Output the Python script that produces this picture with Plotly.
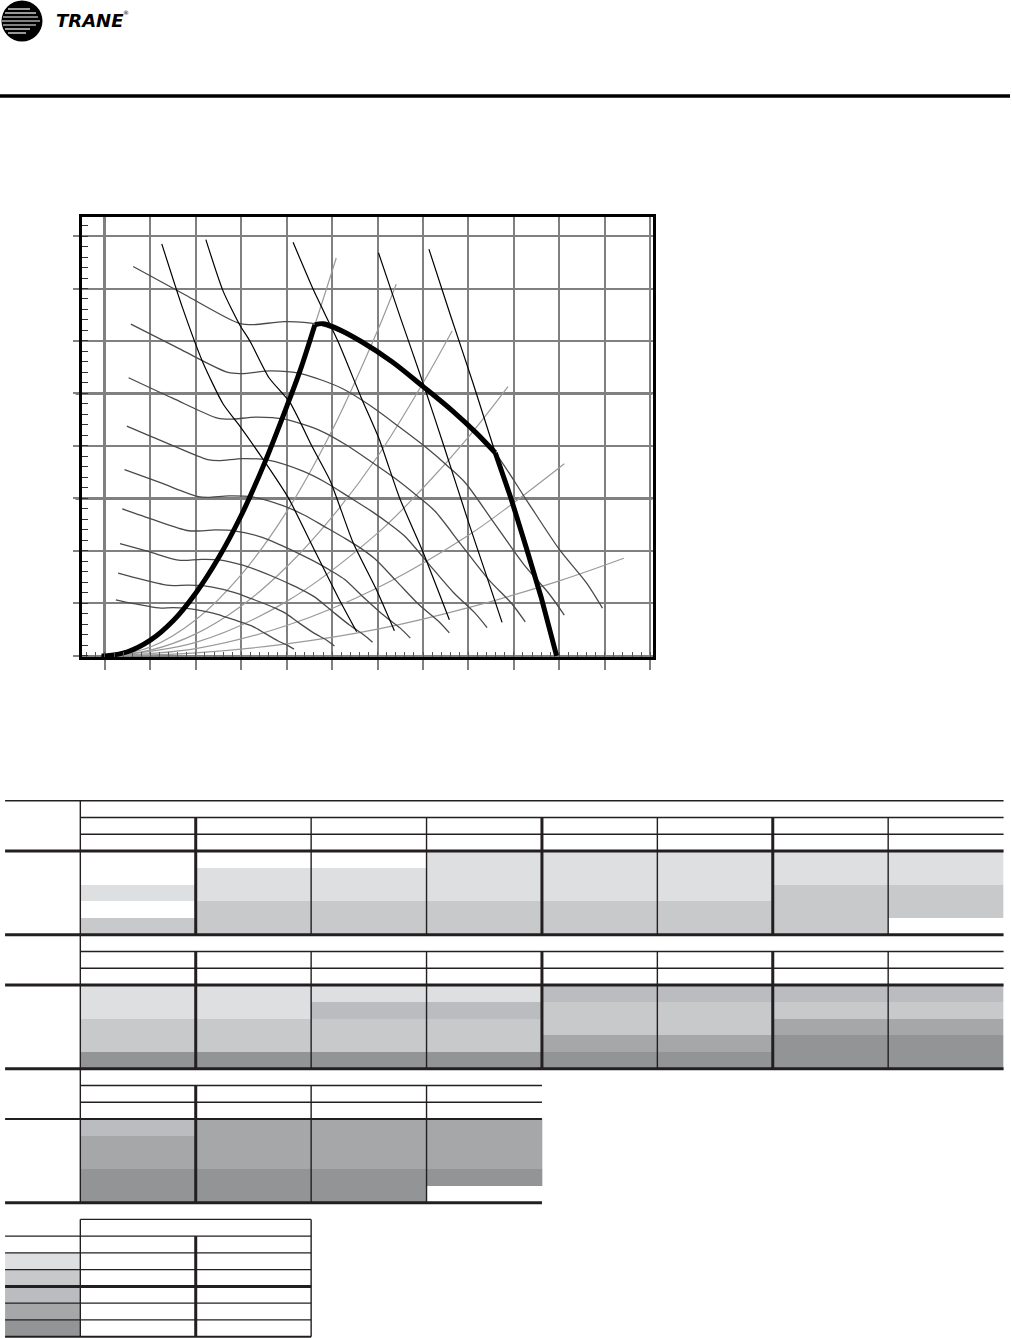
import plotly.graph_objects as go

W, H = 1012, 1338

# ---------------- fan curve data (chart units) ----------------
# system curves from the origin (light gray)
SYS_X = [
    [0, 1, 2, 3, 4, 4.62, 5.09],
    [0, 1, 2, 3, 4, 5, 6, 6.41],
    [0, 1, 2, 3, 4, 5, 6, 7, 7.64],
    [0, 2, 4, 6, 7, 8, 8.87],
    [0, 2, 4, 6, 8, 9, 10.11],
    [0, 2, 4, 6, 8, 10, 11.42],
]
SYS_Y = [
    [0, 0.3, 1.2, 2.68, 4.75, 6.31, 7.58],
    [0, 0.17, 0.69, 1.55, 2.75, 4.3, 6.2, 7.08],
    [0, 0.11, 0.42, 0.95, 1.7, 2.65, 3.8, 5.2, 6.19],
    [0, 0.26, 1.04, 2.34, 3.2, 4.17, 5.13],
    [0, 0.14, 0.58, 1.3, 2.3, 2.92, 3.66],
    [0, 0.06, 0.23, 0.51, 0.92, 1.43, 1.86],
]

# fan speed curves (dark gray)
RPM_X = [
    [0.62, 1.76, 2.94, 3.27, 3.95, 4.67, 5.64, 6.31, 6.99, 7.66, 8.17, 8.59, 9.27, 10.0, 10.59, 10.95],
    [0.57, 1.62, 2.71, 3.02, 3.65, 4.31, 5.21, 5.82, 6.45, 7.07, 7.54, 7.93, 8.56, 9.23, 9.77, 10.11],
    [0.52, 1.49, 2.48, 2.76, 3.34, 3.95, 4.77, 5.33, 5.91, 6.47, 6.90, 7.26, 7.83, 8.45, 8.95, 9.25],
    [0.48, 1.35, 2.26, 2.51, 3.03, 3.59, 4.33, 4.85, 5.37, 5.88, 6.27, 6.60, 7.12, 7.68, 8.13, 8.41],
    [0.43, 1.22, 2.03, 2.26, 2.73, 3.23, 3.90, 4.37, 4.84, 5.30, 5.65, 5.94, 6.41, 6.92, 7.33, 7.58],
    [0.38, 1.08, 1.81, 2.01, 2.43, 2.87, 3.46, 3.87, 4.29, 4.70, 5.02, 5.27, 5.69, 6.14, 6.50, 6.72],
    [0.33, 0.95, 1.58, 1.76, 2.13, 2.51, 3.03, 3.39, 3.76, 4.12, 4.40, 4.62, 4.99, 5.38, 5.70, 5.89],
    [0.29, 0.81, 1.36, 1.51, 1.82, 2.15, 2.60, 2.91, 3.22, 3.53, 3.77, 3.96, 4.27, 4.61, 4.88, 5.05],
    [0.24, 0.67, 1.12, 1.24, 1.50, 1.77, 2.14, 2.40, 2.66, 2.91, 3.10, 3.26, 3.52, 3.80, 4.02, 4.16],
]
RPM_Y = [
    [7.42, 6.88, 6.34, 6.31, 6.37, 6.32, 5.99, 5.61, 5.14, 4.66, 4.25, 3.87, 2.98, 2.03, 1.40, 0.91],
    [6.32, 5.86, 5.40, 5.38, 5.43, 5.38, 5.10, 4.78, 4.38, 3.97, 3.62, 3.30, 2.54, 1.73, 1.19, 0.78],
    [5.30, 4.91, 4.53, 4.51, 4.55, 4.51, 4.28, 4.01, 3.67, 3.33, 3.03, 2.76, 2.13, 1.45, 1.00, 0.65],
    [4.38, 4.06, 3.74, 3.72, 3.76, 3.73, 3.53, 3.31, 3.03, 2.75, 2.51, 2.28, 1.76, 1.20, 0.83, 0.54],
    [3.55, 3.30, 3.04, 3.02, 3.05, 3.03, 2.87, 2.69, 2.46, 2.23, 2.04, 1.85, 1.43, 0.97, 0.67, 0.44],
    [2.80, 2.59, 2.39, 2.38, 2.40, 2.38, 2.26, 2.11, 1.94, 1.76, 1.60, 1.46, 1.12, 0.77, 0.53, 0.34],
    [2.14, 1.99, 1.83, 1.82, 1.84, 1.83, 1.73, 1.62, 1.49, 1.35, 1.23, 1.12, 0.86, 0.59, 0.40, 0.26],
    [1.58, 1.46, 1.35, 1.34, 1.35, 1.34, 1.27, 1.19, 1.09, 0.99, 0.90, 0.82, 0.63, 0.43, 0.30, 0.19],
    [1.07, 0.99, 0.92, 0.91, 0.92, 0.91, 0.86, 0.81, 0.74, 0.67, 0.61, 0.56, 0.43, 0.29, 0.20, 0.13],
]

# brake horsepower lines (black)
BHP_X = [
    [1.25, 1.7, 2.16, 2.6, 2.94, 3.5, 4.03, 4.62, 5.13, 5.54],
    [2.22, 2.6, 2.97, 3.19, 3.61, 4.07, 4.57, 4.96, 5.46, 5.97, 6.37],
    [4.14, 4.6, 5.13, 5.64, 6.04, 6.48, 6.99, 7.58],
    [6.02, 6.5, 7.0, 7.47, 8.0, 8.4, 8.74],
    [7.13, 7.6, 8.1, 8.59],
]
BHP_Y = [
    [7.85, 6.65, 5.58, 4.8, 4.41, 3.72, 3.02, 2.0, 1.12, 0.46],
    [7.93, 6.95, 6.3, 6.0, 5.3, 4.83, 3.97, 3.33, 2.16, 1.27, 0.48],
    [7.88, 6.95, 5.99, 4.92, 4.12, 3.02, 2.0, 0.69],
    [7.68, 6.45, 5.2, 3.97, 2.55, 1.52, 0.64],
    [7.75, 6.5, 5.2, 3.87],
]

# operating limit (thick black): surge side, max speed, max power
LIMIT_SURGE_X = [-0.08, 0.0, 0.5, 1.0, 1.5, 2.0, 2.5, 3.0, 3.5, 4.0, 4.3, 4.62]
LIMIT_SURGE_Y = [0.0, 0.0, 0.08, 0.3, 0.67, 1.2, 1.87, 2.68, 3.65, 4.75, 5.45, 6.31]
LIMIT_TOP_X = [4.62, 4.8, 5.05, 5.64, 6.31, 6.99, 7.66, 8.17, 8.59]
LIMIT_TOP_Y = [6.31, 6.33, 6.26, 5.99, 5.61, 5.14, 4.66, 4.25, 3.87]
LIMIT_END_X = [8.59, 8.93, 9.27, 9.6, 9.94]
LIMIT_END_Y = [3.87, 3.02, 2.07, 1.12, 0.0]

# ---------------- table shading (per column, 5 sub-rows, top->bottom) ----------------
T1_COLS = [[0, 0, 1, 0, 2], [0, 1, 1, 2, 2], [0, 1, 1, 2, 2], [1, 1, 1, 2, 2],
           [1, 1, 1, 2, 2], [1, 1, 1, 2, 2], [1, 1, 2, 2, 2], [1, 1, 2, 2, 0]]
T2_COLS = [[1, 1, 2, 2, 5], [1, 1, 2, 2, 5], [1, 3, 2, 2, 5], [1, 3, 2, 2, 5],
           [3, 2, 2, 4, 5], [3, 2, 2, 4, 5], [3, 2, 4, 5, 5], [3, 2, 4, 5, 5]]
T3_COLS = [[3, 4, 4, 5, 5], [4, 4, 4, 5, 5], [4, 4, 4, 5, 5], [4, 4, 4, 5, 0]]
KEY_SHADES = [1, 2, 3, 4, 5]
SHADES = ["#ffffff", "#dedfe1", "#c8c9cb", "#bbbcc0", "#a6a7a9", "#939496"]

GRID = "#808080"
INK = "#231f20"

fig = go.Figure()

# ---------------- chart ----------------
for xs, ys in zip(SYS_X, SYS_Y):
    fig.add_trace(go.Scatter(x=xs, y=ys, mode="lines", line=dict(color="#9a9a9a", width=1.2, shape="spline"),
                             hoverinfo="skip"))
for xs, ys in zip(RPM_X, RPM_Y):
    fig.add_trace(go.Scatter(x=xs, y=ys, mode="lines", line=dict(color="#4a4a4a", width=1.3, shape="spline", smoothing=0.8),
                             hoverinfo="skip"))
for xs, ys in zip(BHP_X, BHP_Y):
    fig.add_trace(go.Scatter(x=xs, y=ys, mode="lines", line=dict(color="#000000", width=1.2, shape="spline", smoothing=0.6),
                             hoverinfo="skip"))
for xs, ys, shp in [(LIMIT_SURGE_X, LIMIT_SURGE_Y, "spline"), (LIMIT_TOP_X, LIMIT_TOP_Y, "spline"),
                    (LIMIT_END_X, LIMIT_END_Y, "linear")]:
    fig.add_trace(go.Scatter(x=xs, y=ys, mode="lines", line=dict(color="#000000", width=5, shape=shp),
                             hoverinfo="skip"))

# ---------------- tables (x: column units, y: row units) ----------------
colorscale = []
for i, c in enumerate(SHADES):
    colorscale += [[i / len(SHADES), c], [(i + 1) / len(SHADES), c]]


def table_heat(cols, top):
    z = [list(r) for r in zip(*cols)]
    fig.add_trace(go.Heatmap(
        z=z, x=list(range(len(cols) + 1)), y=[top + k for k in range(6)],
        colorscale=colorscale, zmin=-0.5, zmax=len(SHADES) - 0.5, showscale=False,
        hoverinfo="skip", xaxis="x3", yaxis="y3",
    ))


table_heat(T1_COLS, 3)
table_heat(T2_COLS, 11)
table_heat(T3_COLS, 19)
L = -0.652
fig.add_trace(go.Heatmap(
    z=[[s] for s in KEY_SHADES], x=[L, 0], y=[27 + k for k in range(6)],
    colorscale=colorscale, zmin=-0.5, zmax=len(SHADES) - 0.5, showscale=False,
    hoverinfo="skip", xaxis="x3", yaxis="y3",
))

shapes = []
THIN, THICK = 1.4, 3


def hl(y, x0, x1, w=THIN):
    shapes.append(dict(type="line", xref="x3", yref="y3", x0=x0, x1=x1, y0=y, y1=y,
                       line=dict(color=INK, width=w)))


def vl(x, y0, y1, w=THIN):
    shapes.append(dict(type="line", xref="x3", yref="y3", x0=x, x1=x, y0=y0, y1=y1,
                       line=dict(color=INK, width=w)))


hl(0, L, 8)
for t0 in (0, 8):
    hl(t0 + 1, 0, 8)
    hl(t0 + 2, 0, 8)
    hl(t0 + 3, L, 8, THICK)
    hl(t0 + 8, L, 8, THICK)
    for k in range(1, 8):
        vl(k, t0 + 1, t0 + 8, THICK if k in (1, 4, 6) else THIN)
vl(0, 0, 24)
hl(17, 0, 4)
hl(18, 0, 4)
hl(19, L, 4, 2)
hl(24, L, 4, THICK)
for k in range(1, 4):
    vl(k, 17, 24, THICK if k == 1 else THIN)
# key
hl(25, 0, 2)
vl(0, 25, 32)
vl(2, 25, 32)
vl(1, 26, 32, THICK)
for r in range(26, 33):
    hl(r, L, 2, THICK if r == 29 else (2 if r == 32 else THIN))

# thicker reference gridlines in chart
for yv in (3, 5):
    shapes.append(dict(type="line", xref="x domain", yref="y", x0=-6 / 571, x1=1, y0=yv, y1=yv,
                       layer="below", line=dict(color=GRID, width=3)))


# ---------------- header ----------------
def px(x):
    return x / W


def py(y):
    return 1 - y / H


shapes.append(dict(type="line", xref="paper", yref="paper", x0=0, x1=px(1010), y0=py(96), y1=py(96),
                   line=dict(color="black", width=3.5)))
shapes.append(dict(type="circle", xref="paper", yref="paper", x0=px(1.5), x1=px(42.5), y0=py(41.5), y1=py(0.5),
                   fillcolor="black", line=dict(width=0)))
for yy, xa, xb in [(9, 8, 30), (13, 5, 36), (17, 3, 38), (21, 2, 40), (25, 3, 36),
                   (29, 5, 30), (33, 8, 26)]:
    shapes.append(dict(type="line", xref="paper", yref="paper", x0=px(xa), x1=px(xb), y0=py(yy), y1=py(yy),
                       line=dict(color="white", width=1.2)))

annotations = [
    dict(text="<b><i>TRANE</i></b>", xref="paper", yref="paper", x=px(54), y=py(20),
         xanchor="left", yanchor="middle", showarrow=False,
         font=dict(family="DejaVu Sans", size=18, color="black")),
    dict(text="®", xref="paper", yref="paper", x=px(121), y=py(13),
         xanchor="left", yanchor="middle", showarrow=False,
         font=dict(family="DejaVu Sans", size=6, color="black")),
]

XR = [-0.517, 12.051]
YR = [-0.02, 8.362]
fig.update_layout(
    width=W, height=H, autosize=False,
    margin=dict(l=0, r=0, t=0, b=0),
    paper_bgcolor="white", plot_bgcolor="white",
    showlegend=False,
    shapes=shapes, annotations=annotations,
    xaxis=dict(
        domain=[81.5 / W, 652.5 / W], range=XR, anchor="y",
        tick0=0, dtick=1, showgrid=True, gridcolor=GRID, gridwidth=1.5,
        zeroline=True, zerolinecolor=GRID, zerolinewidth=3,
        showline=True, linecolor="black", linewidth=3, mirror=True,
        ticks="outside", ticklen=10, tickwidth=1.5, tickcolor=GRID, showticklabels=False,
        minor=dict(tick0=0, dtick=0.2, ticks="inside", ticklen=5, tickwidth=1.2, tickcolor="#555555", showgrid=False),
    ),
    xaxis2=dict(
        overlaying="x", side="top", anchor="y", range=XR, tick0=0, dtick=1,
        ticks="outside", ticklen=5, tickwidth=1.5, tickcolor=GRID,
        showticklabels=False, showgrid=False, zeroline=False, showline=False,
    ),
    yaxis=dict(
        domain=[1 - 657 / H, 1 - 217 / H], range=YR, anchor="x",
        tick0=0, dtick=1, showgrid=True, gridcolor=GRID, gridwidth=1.5, zeroline=False,
        showline=True, linecolor="black", linewidth=3, mirror=True,
        ticks="outside", ticklen=6, tickwidth=1.5, tickcolor=GRID, showticklabels=False,
        minor=dict(tick0=0, dtick=0.2, ticks="inside", ticklen=6, tickwidth=1.3, tickcolor="#333333", showgrid=False),
    ),
    xaxis3=dict(domain=[0, 1], range=[-0.696, 8.073], anchor="y3", visible=False),
    yaxis3=dict(domain=[0, 0.41], range=[32.08, -0.675], anchor="x3", visible=False),
)

fig.write_html("out.html", config={"displayModeBar": False},
               post_script="document.body.style.margin='0';")
